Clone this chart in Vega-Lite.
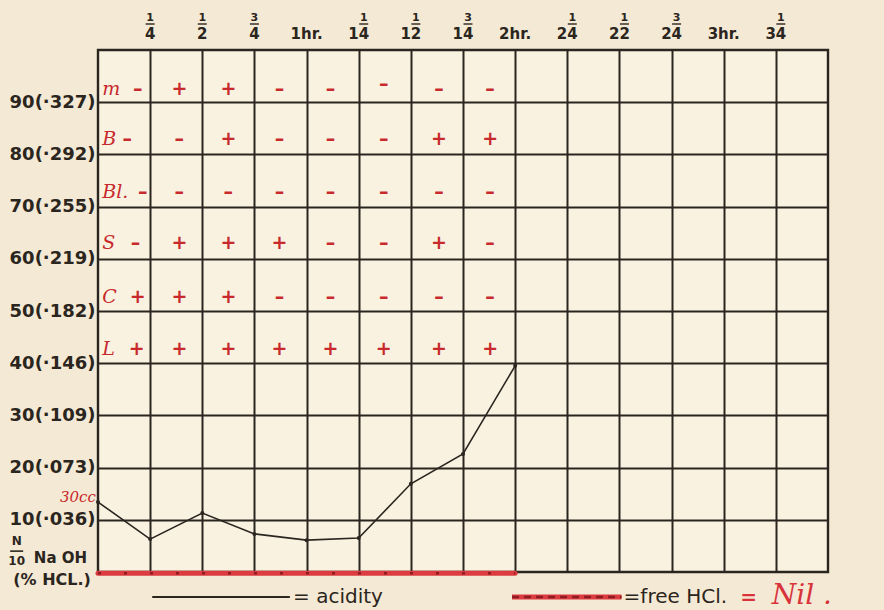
{
  "$schema": "https://vega.github.io/schema/vega-lite/v6.json",
  "width": 730,
  "height": 522,
  "autosize": {"type": "none"},
  "padding": {"left": 98, "top": 50, "right": 56, "bottom": 38},
  "background": "#f4e9d4",
  "config": {
    "view": {"stroke": "#2b2520", "strokeWidth": 2.4, "fill": "#f9f2e1"},
    "axis": {"gridColor": "#2b2520", "gridOpacity": 1, "gridWidth": 2, "ticks": false, "domain": false}
  },
  "datasets": {
    "acidity": [
      {"t": 0, "v": 13.4}, {"t": 0.25, "v": 6.3}, {"t": 0.5, "v": 11.3}, {"t": 0.75, "v": 7.3},
      {"t": 1, "v": 6.1}, {"t": 1.25, "v": 6.5}, {"t": 1.5, "v": 16.9}, {"t": 1.75, "v": 22.6}, {"t": 2, "v": 39.5}
    ],
    "hcl": [{"t": 0, "v": -0.25}, {"t": 2, "v": -0.25}],
    "top": [
      {"t": 0.25, "main": "4", "num": "1"}, {"t": 0.5, "main": "2", "num": "1"}, {"t": 0.75, "main": "4", "num": "3"},
      {"t": 1, "main": "1hr.", "num": ""}, {"t": 1.25, "main": "14", "num": "1"}, {"t": 1.5, "main": "12", "num": "1"},
      {"t": 1.75, "main": "14", "num": "3"}, {"t": 2, "main": "2hr.", "num": ""}, {"t": 2.25, "main": "24", "num": "1"},
      {"t": 2.5, "main": "22", "num": "1"}, {"t": 2.75, "main": "24", "num": "3"}, {"t": 3, "main": "3hr.", "num": ""},
      {"t": 3.25, "main": "34", "num": "1"}
    ],
    "rows": [
      {"s": "m", "t": 0.02, "v": 92.6}, {"s": "B", "t": 0.02, "v": 82.9}, {"s": "Bl.", "t": 0.02, "v": 72.8},
      {"s": "S", "t": 0.02, "v": 63.0}, {"s": "C", "t": 0.02, "v": 52.7}, {"s": "L", "t": 0.02, "v": 42.7}
    ],
    "signs": [
      {"t": 0.19, "v": 92.6, "s": "–"}, {"t": 0.39, "v": 92.6, "s": "+"}, {"t": 0.625, "v": 92.6, "s": "+"}, {"t": 0.87, "v": 92.6, "s": "–"},
      {"t": 1.115, "v": 92.6, "s": "–"}, {"t": 1.37, "v": 93.4, "s": "–"}, {"t": 1.635, "v": 92.6, "s": "–"}, {"t": 1.88, "v": 92.6, "s": "–"},
      {"t": 0.14, "v": 82.9, "s": "–"}, {"t": 0.39, "v": 82.9, "s": "–"}, {"t": 0.625, "v": 82.9, "s": "+"}, {"t": 0.87, "v": 82.9, "s": "–"},
      {"t": 1.115, "v": 82.9, "s": "–"}, {"t": 1.37, "v": 82.9, "s": "–"}, {"t": 1.635, "v": 82.9, "s": "+"}, {"t": 1.88, "v": 82.9, "s": "+"},
      {"t": 0.215, "v": 72.8, "s": "–"}, {"t": 0.39, "v": 72.8, "s": "–"}, {"t": 0.625, "v": 72.8, "s": "–"}, {"t": 0.87, "v": 72.8, "s": "–"},
      {"t": 1.115, "v": 72.8, "s": "–"}, {"t": 1.37, "v": 72.8, "s": "–"}, {"t": 1.635, "v": 72.8, "s": "–"}, {"t": 1.88, "v": 72.8, "s": "–"},
      {"t": 0.18, "v": 63.0, "s": "–"}, {"t": 0.39, "v": 63.0, "s": "+"}, {"t": 0.625, "v": 63.0, "s": "+"}, {"t": 0.87, "v": 63.0, "s": "+"},
      {"t": 1.115, "v": 63.0, "s": "–"}, {"t": 1.37, "v": 63.0, "s": "–"}, {"t": 1.635, "v": 63.0, "s": "+"}, {"t": 1.88, "v": 63.0, "s": "–"},
      {"t": 0.19, "v": 52.7, "s": "+"}, {"t": 0.39, "v": 52.7, "s": "+"}, {"t": 0.625, "v": 52.7, "s": "+"}, {"t": 0.87, "v": 52.7, "s": "–"},
      {"t": 1.115, "v": 52.7, "s": "–"}, {"t": 1.37, "v": 52.7, "s": "–"}, {"t": 1.635, "v": 52.7, "s": "–"}, {"t": 1.88, "v": 52.7, "s": "–"},
      {"t": 0.185, "v": 42.7, "s": "+"}, {"t": 0.39, "v": 42.7, "s": "+"}, {"t": 0.625, "v": 42.7, "s": "+"}, {"t": 0.87, "v": 42.7, "s": "+"},
      {"t": 1.115, "v": 42.7, "s": "+"}, {"t": 1.37, "v": 42.7, "s": "+"}, {"t": 1.635, "v": 42.7, "s": "+"}, {"t": 1.88, "v": 42.7, "s": "+"}
    ],
    "unitSmall": [{"t": -0.39, "v": 5.9, "s": "N"}, {"t": -0.39, "v": 2.1, "s": "10"}],
    "unitBar": [{"t": -0.39, "v": 4.0}],
    "unitMid": [{"t": -0.18, "v": 2.6, "s": "Na OH"}],
    "unitLow": [{"t": -0.22, "v": -1.6, "s": "(% HCL.)"}],
    "cc": [{"t": -0.01, "v": 14.4, "s": "30cc"}],
    "legendBlack": [{"t": 0.26, "t2": 0.92, "v": -4.8}],
    "legendRed": [{"t": 1.985, "t2": 2.51, "v": -4.8}],
    "legendText": [{"t": 0.935, "v": -4.8, "s": "= acidity"}, {"t": 2.52, "v": -4.8, "s": "=free HCl."}],
    "legendNilEq": [{"t": 3.12, "v": -5.0, "s": "="}],
    "legendNil": [{"t": 3.23, "v": -4.6, "s": "Nil ."}]
  },
  "layer": [
    {
      "data": {"name": "hcl"},
      "mark": {"type": "line", "color": "#dc3b40", "strokeWidth": 5, "strokeCap": "round"},
      "encoding": {
        "x": {"field": "t", "type": "quantitative", "title": null,
          "scale": {"domain": [0, 3.5], "nice": false, "zero": false},
          "axis": {"orient": "top", "values": [0.25, 0.5, 0.75, 1, 1.25, 1.5, 1.75, 2, 2.25, 2.5, 2.75, 3, 3.25],
            "grid": true, "labels": false, "title": null}},
        "y": {"field": "v", "type": "quantitative", "title": null,
          "scale": {"domain": [0, 100], "nice": false, "zero": false},
          "axis": {"orient": "left", "values": [10, 20, 30, 40, 50, 60, 70, 80, 90], "grid": true, "title": null,
            "labelExpr": "['10(·036)','20(·073)','30(·109)','40(·146)','50(·182)','60(·219)','70(·255)','80(·292)','90(·327)'][round(datum.value/10)-1]",
            "labelFont": "DejaVu Sans", "labelFontSize": 18, "labelFontWeight": "bold", "labelColor": "#2b2520",
            "labelPadding": 3, "labelBaseline": "middle"}}
      }
    },
    {
      "data": {"name": "hcl"},
      "mark": {"type": "line", "color": "#8e1c22", "strokeWidth": 2.5, "strokeDash": [3, 23]},
      "encoding": {"x": {"field": "t", "type": "quantitative", "title": null}, "y": {"field": "v", "type": "quantitative", "title": null}}
    },
    {
      "data": {"name": "acidity"},
      "mark": {"type": "line", "color": "#2b2520", "strokeWidth": 1.6, "point": {"filled": true, "size": 16, "color": "#2b2520"}},
      "encoding": {"x": {"field": "t", "type": "quantitative", "title": null}, "y": {"field": "v", "type": "quantitative", "title": null}}
    },
    {
      "data": {"name": "top"},
      "mark": {"type": "text", "font": "DejaVu Sans", "fontSize": 15, "fontWeight": "bold", "color": "#2b2520", "baseline": "alphabetic", "dy": -11},
      "encoding": {"x": {"field": "t", "type": "quantitative", "title": null}, "y": {"datum": 100}, "text": {"field": "main"}}
    },
    {
      "data": {"name": "top"},
      "transform": [{"filter": "length(datum.main) == 1"}],
      "mark": {"type": "text", "font": "DejaVu Sans", "fontSize": 11, "fontWeight": "bold", "color": "#2b2520", "baseline": "alphabetic", "dy": -29},
      "encoding": {"x": {"field": "t", "type": "quantitative", "title": null}, "y": {"datum": 100}, "text": {"field": "num"}}
    },
    {
      "data": {"name": "top"},
      "transform": [{"filter": "length(datum.main) == 2"}],
      "mark": {"type": "text", "font": "DejaVu Sans", "fontSize": 11, "fontWeight": "bold", "color": "#2b2520", "baseline": "alphabetic", "dy": -29, "dx": 5},
      "encoding": {"x": {"field": "t", "type": "quantitative", "title": null}, "y": {"datum": 100}, "text": {"field": "num"}}
    },
    {
      "data": {"name": "top"},
      "transform": [{"filter": "length(datum.main) == 1"}],
      "mark": {"type": "tick", "orient": "horizontal", "size": 9, "thickness": 1.4, "color": "#2b2520", "opacity": 1, "yOffset": -26},
      "encoding": {"x": {"field": "t", "type": "quantitative", "title": null}, "y": {"datum": 100}}
    },
    {
      "data": {"name": "top"},
      "transform": [{"filter": "length(datum.main) == 2"}],
      "mark": {"type": "tick", "orient": "horizontal", "size": 9, "thickness": 1.4, "color": "#2b2520", "opacity": 1, "yOffset": -26, "xOffset": 5},
      "encoding": {"x": {"field": "t", "type": "quantitative", "title": null}, "y": {"datum": 100}}
    },
    {
      "data": {"name": "rows"},
      "mark": {"type": "text", "font": "DejaVu Serif", "fontStyle": "italic", "fontSize": 19, "color": "#c8292c", "align": "left", "baseline": "middle"},
      "encoding": {"x": {"field": "t", "type": "quantitative", "title": null}, "y": {"field": "v", "type": "quantitative", "title": null}, "text": {"field": "s"}}
    },
    {
      "data": {"name": "signs"},
      "mark": {"type": "text", "font": "DejaVu Sans", "fontWeight": "bold", "fontSize": 19, "color": "#c8292c", "align": "center", "baseline": "middle"},
      "encoding": {"x": {"field": "t", "type": "quantitative", "title": null}, "y": {"field": "v", "type": "quantitative", "title": null}, "text": {"field": "s"}}
    },
    {
      "data": {"name": "cc"},
      "mark": {"type": "text", "font": "DejaVu Serif", "fontStyle": "italic", "fontSize": 15, "color": "#c8292c", "align": "right", "baseline": "middle"},
      "encoding": {"x": {"field": "t", "type": "quantitative", "title": null}, "y": {"field": "v", "type": "quantitative", "title": null}, "text": {"field": "s"}}
    },
    {
      "data": {"name": "unitSmall"},
      "mark": {"type": "text", "font": "DejaVu Sans", "fontWeight": "bold", "fontSize": 12, "color": "#2b2520", "align": "center", "baseline": "middle"},
      "encoding": {"x": {"field": "t", "type": "quantitative", "title": null}, "y": {"field": "v", "type": "quantitative", "title": null}, "text": {"field": "s"}}
    },
    {
      "data": {"name": "unitBar"},
      "mark": {"type": "tick", "orient": "horizontal", "size": 13, "thickness": 1.6, "color": "#2b2520", "opacity": 1},
      "encoding": {"x": {"field": "t", "type": "quantitative", "title": null}, "y": {"field": "v", "type": "quantitative", "title": null}}
    },
    {
      "data": {"name": "unitMid"},
      "mark": {"type": "text", "font": "DejaVu Sans", "fontWeight": "bold", "fontSize": 15, "color": "#2b2520", "align": "center", "baseline": "middle"},
      "encoding": {"x": {"field": "t", "type": "quantitative", "title": null}, "y": {"field": "v", "type": "quantitative", "title": null}, "text": {"field": "s"}}
    },
    {
      "data": {"name": "unitLow"},
      "mark": {"type": "text", "font": "DejaVu Sans", "fontWeight": "bold", "fontSize": 16, "color": "#2b2520", "align": "center", "baseline": "middle"},
      "encoding": {"x": {"field": "t", "type": "quantitative", "title": null}, "y": {"field": "v", "type": "quantitative", "title": null}, "text": {"field": "s"}}
    },
    {
      "data": {"name": "legendBlack"},
      "mark": {"type": "rule", "color": "#2b2520", "strokeWidth": 2},
      "encoding": {"x": {"field": "t", "type": "quantitative", "title": null}, "x2": {"field": "t2"}, "y": {"field": "v", "type": "quantitative", "title": null}}
    },
    {
      "data": {"name": "legendRed"},
      "mark": {"type": "rule", "color": "#dc3b40", "strokeWidth": 5},
      "encoding": {"x": {"field": "t", "type": "quantitative", "title": null}, "x2": {"field": "t2"}, "y": {"field": "v", "type": "quantitative", "title": null}}
    },
    {
      "data": {"name": "legendRed"},
      "mark": {"type": "rule", "color": "#8e1c22", "strokeWidth": 2.5, "strokeDash": [7, 5]},
      "encoding": {"x": {"field": "t", "type": "quantitative", "title": null}, "x2": {"field": "t2"}, "y": {"field": "v", "type": "quantitative", "title": null}}
    },
    {
      "data": {"name": "legendText"},
      "mark": {"type": "text", "font": "DejaVu Sans", "fontSize": 20, "color": "#2b2520", "align": "left", "baseline": "middle"},
      "encoding": {"x": {"field": "t", "type": "quantitative", "title": null}, "y": {"field": "v", "type": "quantitative", "title": null}, "text": {"field": "s"}}
    },
    {
      "data": {"name": "legendNilEq"},
      "mark": {"type": "text", "font": "DejaVu Sans", "fontWeight": "bold", "fontSize": 20, "color": "#d8333a", "align": "center", "baseline": "middle"},
      "encoding": {"x": {"field": "t", "type": "quantitative", "title": null}, "y": {"field": "v", "type": "quantitative", "title": null}, "text": {"field": "s"}}
    },
    {
      "data": {"name": "legendNil"},
      "mark": {"type": "text", "font": "DejaVu Serif", "fontStyle": "italic", "fontSize": 28, "color": "#d8333a", "align": "left", "baseline": "middle"},
      "encoding": {"x": {"field": "t", "type": "quantitative", "title": null}, "y": {"field": "v", "type": "quantitative", "title": null}, "text": {"field": "s"}}
    }
  ]
}
